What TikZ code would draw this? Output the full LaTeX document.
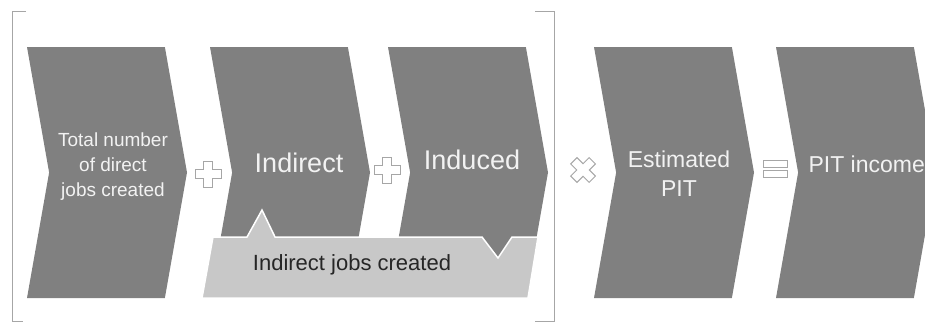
\documentclass[tikz,border=0pt]{standalone}
\usepackage{fontspec}
\setmainfont{Liberation Sans}
\usepackage{tikz}
\usetikzlibrary{positioning, shapes.symbols}

\definecolor{chevgray}{HTML}{808080}
\definecolor{boxgray}{HTML}{C8C8C8}
\definecolor{txtwhite}{HTML}{F2F2F2}
\definecolor{linegray}{HTML}{A6A6A6}

\begin{document}
\begin{tikzpicture}[
    x=1pt, y=-1pt,
    chevron/.style={shape=signal, signal from=west, signal to=east, signal pointer angle=160, fill=chevgray, minimum width=160pt, minimum height=251pt, inner sep=0pt},
    bigtext/.style={text=txtwhite, font=\fontsize{27}{30}\selectfont, anchor=base},
    smalltext/.style={text=txtwhite, align=center, font=\fontsize{19}{25}\selectfont},
    midtext/.style={text=txtwhite, align=center, font=\fontsize{23}{29}\selectfont},
    opsign/.style={draw=linegray, fill=white, line width=0.9pt, line join=miter},
    plussign/.pic={\draw[opsign] (-4.5,-13) -- (4.5,-13) -- (4.5,-4.5) -- (13,-4.5) -- (13,4.5) -- (4.5,4.5) -- (4.5,13) -- (-4.5,13) -- (-4.5,4.5) -- (-13,4.5) -- (-13,-4.5) -- (-4.5,-4.5) -- cycle;},
]

\clip (0,0) rectangle (925,322);

% brackets round the jobs part
\draw[linegray, line width=0.9pt] (26,11) -- (12,11) -- (12,321) -- (23,321);
\draw[linegray, line width=0.9pt] (535,11) -- (554,11) -- (554,321) -- (535,321);

% chevrons
\node[chevron] (direct) at (107,172.5) {};
\node[chevron] (indirect) at (290,172.5) {};
\node[chevron] (induced) at (468,172.5) {};
\node[chevron] (pit) at (674,172.5) {};
\node[chevron] (income) at (856,172.5) {};

% light box under indirect and induced
\fill[boxgray, draw=white, line width=1.5pt] (213,237) -- (247,237) -- (262,210) -- (275,237) -- (482,237) -- (498,258) -- (512,237) -- (538,237) -- (528,298) -- (202,298) -- cycle;

\node[smalltext] (directlbl) at (113,167) {Total number\\of direct\\jobs created};
\node[bigtext] (indirectlbl) at (299,172) {Indirect};
\node[bigtext] (inducedlbl) at (472,169) {Induced};
\node[midtext] (pitlbl) at (679,174) {Estimated\\PIT};
\node[text=txtwhite, font=\fontsize{23}{29}\selectfont, anchor=base west] (incomelbl) at (805,172) {PIT income};
\node[font=\fontsize{22}{26}\selectfont, text=black!85] (jobslbl) at (352,265) {Indirect jobs created};

% operators
\pic (plusa) at (208,174) {plussign};
\pic (plusb) at (387,170) {plussign};
\pic[rotate=45] (times) at (583,170) {plussign};
\draw[opsign] (763,160) rectangle (787,167);
\draw[opsign] (763,170) rectangle (787,177);

\end{tikzpicture}
\end{document}
